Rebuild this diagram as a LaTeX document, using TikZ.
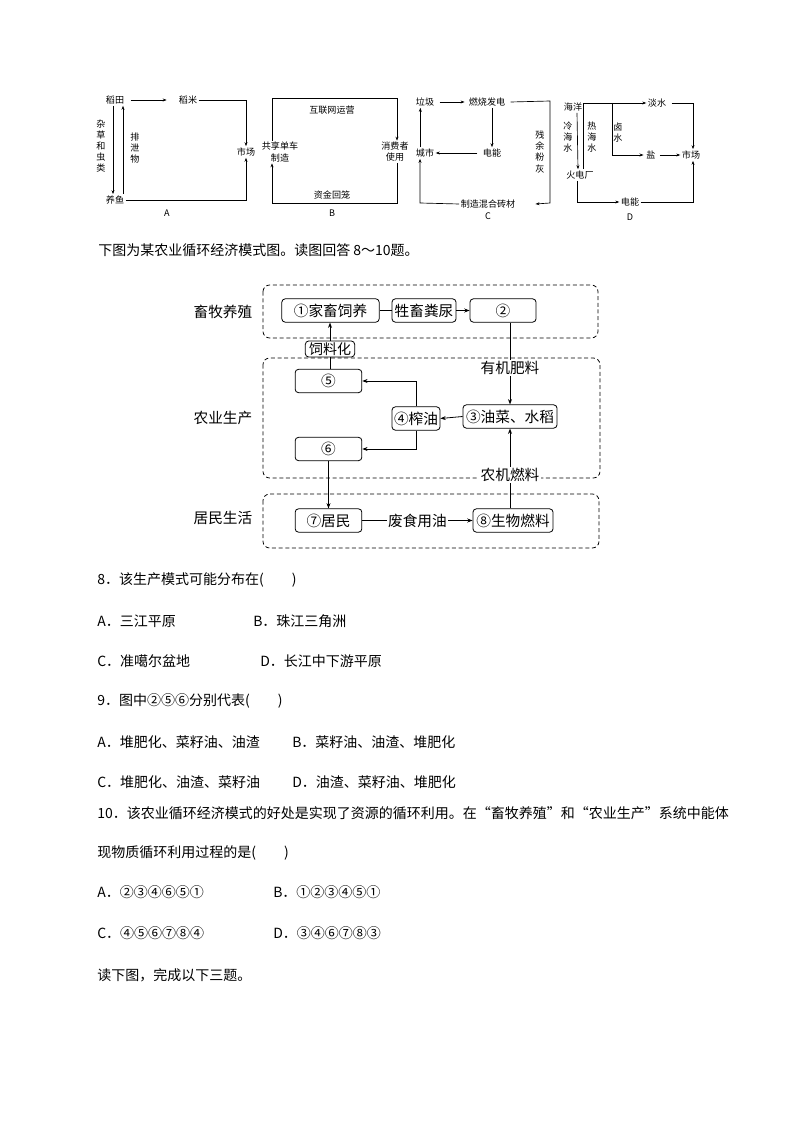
\documentclass[tikz,border=0pt]{standalone}
\usepackage{fontspec}
\setmainfont{Noto Sans CJK SC}
\usetikzlibrary{arrows.meta}
\begin{document}
\begin{tikzpicture}[x=0.75pt,y=-0.75pt,
  sm/.style={font=\fontsize{6.8pt}{8pt}\selectfont, inner sep=1pt},
  smv/.style={font=\fontsize{6.8pt}{8.3pt}\selectfont, inner sep=1pt, align=center},
  sarr/.style={-{Stealth[length=3pt,width=2.2pt]}, line width=0.5pt},
  sline/.style={line width=0.5pt},
  mbox/.style={draw, rounded corners=2.5pt, line width=0.6pt, inner sep=0pt, minimum height=17.5pt, font=\fontsize{11pt}{12pt}\selectfont},
  mlbl/.style={font=\fontsize{11pt}{12pt}\selectfont, inner sep=1pt},
  mtxt/.style={font=\fontsize{11pt}{12pt}\selectfont, inner sep=1pt, fill=white},
  marr/.style={-{Stealth[length=4pt,width=3pt]}, line width=0.6pt},
  mline/.style={line width=0.6pt},
  dbox/.style={draw, dashed, dash pattern=on 3pt off 2pt, rounded corners=5pt, line width=0.6pt},
  body/.style={font=\fontsize{10.5pt}{13pt}\selectfont, inner sep=0pt, anchor=west}
]
\useasboundingbox (0,0) rectangle (794,1123);
\fill[white] (0,0) rectangle (794,1123);

% ---------- Diagram A ----------
\node[sm] (a1) at (115,100) {稻田};
\node[sm] (a2) at (188,100) {稻米};
\node[sm] (a3) at (246,152) {市场};
\node[sm] (a4) at (115,200) {养鱼};
\node[smv] (a5) at (101,146) {杂\\草\\和\\虫\\类};
\node[smv] (a6) at (135,148) {排\\泄\\物};
\node[sm] (la) at (167,213) {A};
\draw[sarr] (a1.east)++(5,0) -- ([xshift=-8pt]a2.west);
\draw[sarr] (a2.east) -| (a3.north);
\draw[sarr] (a4.east) -| (a3.south);
\draw[sarr] ([xshift=-1.5pt]a1.south) -- ([xshift=-1.5pt]a4.north);
\draw[sarr] ([xshift=6pt]a4.north) -- ([xshift=6pt]a1.south);

% ---------- Diagram B ----------
\node[smv] (b1) at (280,152) {共享单车\\制造};
\node[smv] (b2) at (395,152) {消费者\\使用};
\node[sm] (b3) at (332,110) {互联网运营};
\node[sm] (b4) at (332,195) {资金回笼};
\node[sm] (lb) at (332,213) {B};
\coordinate (bTL) at (272,98);
\coordinate (bTR) at (397,98);
\coordinate (bBL) at (272,203);
\coordinate (bBR) at (397,203);
\draw[sarr] (b1.north -| bTL) -- (bTL) -- (bTR) -- (b2.north -| bTR);
\draw[sarr] (b2.south -| bBR) -- (bBR) -- (bBL) -- (b1.south -| bBL);

% ---------- Diagram C ----------
\node[sm] (c1) at (425,102) {垃圾};
\node[sm] (c2) at (487,102) {燃烧发电};
\node[sm] (c3) at (492,153) {电能};
\node[sm] (c4) at (425,153) {城市};
\node[sm] (c5) at (488,204) {制造混合砖材};
\node[smv] (c6) at (540,152) {残\\余\\粉\\灰};
\node[sm] (lc) at (488,216) {C};
\coordinate (cTR) at (550,101);
\coordinate (cBR) at (550,203);
\coordinate (cBL) at (420,203);
\draw[sarr] ([xshift=3pt]c1.east) -- ([xshift=-2pt]c2.west);
\draw[sarr] (c2.south -| c3.north) -- (c3.north);
\draw[sarr] ([xshift=-3pt]c3.west) -- (c4.east);
\draw[sarr] ([xshift=-3.5pt]c4.north) -- ([xshift=-3.5pt]c1.south);
\draw[sarr] (c5.west) -- (cBL) -- (c4.south -| cBL);
\draw[sarr] ([xshift=3pt]c2.east) -- (cTR) -- (cBR) -- ([xshift=14pt]c5.east);

% ---------- Diagram D ----------
\node[sm] (d1) at (573,107) {海洋};
\node[sm] (d2) at (657,103) {淡水};
\node[smv] (d3) at (618,133) {卤\\水};
\node[sm] (d4) at (651,155) {盐};
\node[sm] (d5) at (691,155) {市场};
\node[sm] (d6) at (580,175) {火电厂};
\node[sm] (d7) at (630,202) {电能};
\node[smv] (d8) at (568,137) {冷\\海\\水};
\node[smv] (d9) at (592,137) {热\\海\\水};
\node[sm] (ld) at (630,217) {D};
\coordinate (dT) at (583,103);
\coordinate (dS) at (612,103);
\coordinate (dSB) at (612,155);
\coordinate (dMT) at (693,103);
\coordinate (dMB) at (693,202);
\coordinate (dFB) at (577,202);
\draw[sarr] (d6.north -| dT) -- (dT) -- (d2.west);
\draw[sarr] ([xshift=3pt]d1.south) -- ([xshift=-1.5pt]d6.north);
\draw[sarr] (dS) -- (dSB) -- ([xshift=-1pt]d4.west);
\draw[sarr] ([xshift=2pt]d4.east) -- (d5.west);
\draw[sarr] ([xshift=3pt]d2.east) -- (dMT) -- (d5.north -| dMT);
\draw[sarr] (d6.south -| dFB) -- (dFB) -- (d7.west);
\draw[sarr] (d7.east) -- (dMB) -- (d5.south -| dMB);

% ---------- intro ----------
\node[body] (t0) at (98,250) {下图为某农业循环经济模式图。读图回答 8～10题。};

% ---------- middle diagram ----------
\draw[dbox] (263,285) rectangle (598,338);
\draw[dbox] (263,358) rectangle (600,478);
\draw[dbox] (263,494) rectangle (599,548);
\node[mlbl, anchor=west] (g1) at (192,312) {畜牧养殖};
\node[mlbl, anchor=west] (g2) at (192,418) {农业生产};
\node[mlbl, anchor=west] (g3) at (192,518) {居民生活};

\node[mbox, minimum width=73pt] (n1) at (330.5,310.5) {①家畜饲养};
\node[mbox, minimum width=48pt] (nf1) at (424,310.5) {牲畜粪尿};
\node[mbox, minimum width=49.5pt] (n2) at (503,310.5) {②};
\node[mbox, minimum width=37pt, minimum height=12pt, font=\fontsize{10.5pt}{11pt}\selectfont] (nf) at (330,349) {饲料化};
\node[mbox, minimum width=50pt] (n5) at (328.5,381) {⑤};
\node[mbox, minimum width=36pt] (n4) at (416,418.5) {④榨油};
\node[mbox, minimum width=70.5pt] (n3) at (510,416.5) {③油菜、水稻};
\node[mbox, minimum width=50pt] (n6) at (328.5,449) {⑥};
\node[mbox, minimum width=50pt] (n7) at (328.5,520.5) {⑦居民};
\node[mbox, minimum width=60pt] (n8) at (513,520.5) {⑧生物燃料};

\draw[mline] (n1.east) -- (nf1.west);
\draw[marr] (nf1.east) -- (n2.west);
\draw[marr] (nf.north) -- (n1.south -| nf.north);
\draw[mline] (n5.north -| nf.south) -- (nf.south);
\draw[marr] (n2.south -| n3.north) -- (n3.north) node[pos=0.55, mtxt] (k1) {有机肥料};
\draw[marr] (n3.west) -- (n4.east);
\draw[marr] (n4.north) |- (n5.east);
\draw[marr] (n4.south) |- (n6.east);
\draw[marr] (n6.south) -- (n7.north);
\draw[marr] (n7.east) -- (n8.west) node[midway, mtxt] (k2) {废食用油};
\draw[marr] (n8.north -| n3.south) -- (n3.south) node[pos=0.42, mtxt] (k3) {农机燃料};

% ---------- questions ----------
\node[body] (q8) at (97,580) {8．该生产模式可能分布在(\quad\quad)};
\node[body] (q8a) at (97,621) {A．三江平原};
\node[body] (q8b) at (253,621) {B．珠江三角洲};
\node[body] (q8c) at (97,661) {C．准噶尔盆地};
\node[body] (q8d) at (260,661) {D．长江中下游平原};

\node[body] (q9) at (97,701) {9．图中②⑤⑥分别代表(\quad\quad)};
\node[body] (q9a) at (97,742) {A．堆肥化、菜籽油、油渣};
\node[body] (q9b) at (292,742) {B．菜籽油、油渣、堆肥化};
\node[body] (q9c) at (97,782) {C．堆肥化、油渣、菜籽油};
\node[body] (q9d) at (292,782) {D．油渣、菜籽油、堆肥化};

\node[body] (q10) at (97,813) {10．该农业循环经济模式的好处是实现了资源的循环利用。在“畜牧养殖”和“农业生产”系统中能体};
\node[body] (q10b) at (97,853) {现物质循环利用过程的是(\quad\quad)};
\node[body] (q10a) at (97,892) {A．②③④⑥⑤①};
\node[body] (q10bb) at (273,892) {B．①②③④⑤①};
\node[body] (q10c) at (97,933) {C．④⑤⑥⑦⑧④};
\node[body] (q10d) at (273,933) {D．③④⑥⑦⑧③};
\node[body] (q11) at (97,975) {读下图，完成以下三题。};
\end{tikzpicture}
\end{document}
